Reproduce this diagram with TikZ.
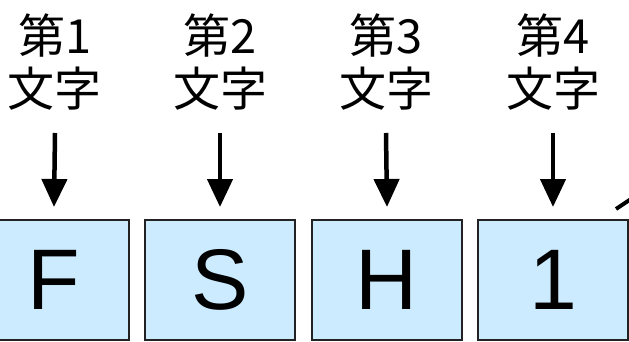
\documentclass[tikz,border=0pt]{standalone}
\usepackage{fontspec}
\setmainfont{Liberation Sans}
\newfontfamily\jpfont{Noto Sans CJK JP}
\usetikzlibrary{arrows.meta}
\definecolor{boxfill}{HTML}{CCEBFF}
\definecolor{boxline}{HTML}{222222}
\tikzset{
  charbox/.style={draw=boxline, line width=2pt, fill=boxfill, minimum width=150pt, minimum height=120pt, inner sep=0pt, font=\fontsize{86}{86}\selectfont},
  lbl/.style={align=center, inner sep=0pt, font=\jpfont\fontsize{47}{53}\selectfont},
  pointer/.style={line width=4.5pt, -{Triangle[width=25pt,length=28pt]}}
}
\begin{document}
\begin{tikzpicture}[x=1pt,y=-1pt]
\useasboundingbox (0,0) rectangle (629,342);
\begin{scope}
\clip (0,0) rectangle (629,342);
\node[charbox] (b1) at (54,279.5) {F};
\node[charbox] (b2) at (220,279.5) {S};
\node[charbox] (b3) at (387,279.5) {H};
\node[charbox] (b4) at (553,279.5) {1};
\node[lbl] (l1) at (55,62) {第1\\文字};
\node[lbl] (l2) at (220,62) {第2\\文字};
\node[lbl] (l3) at (386,62) {第3\\文字};
\node[lbl] (l4) at (553,62) {第4\\文字};
\coordinate (a1) at (55,133);
\coordinate (a2) at (220,133);
\coordinate (a3) at (386,133);
\coordinate (a4) at (553,133);
\draw[pointer] (a1) -- (b1.north |- 0,207);
\draw[pointer] (a2) -- (b2.north |- 0,207);
\draw[pointer] (a3) -- (b3.north |- 0,207);
\draw[pointer] (a4) -- (b4.north |- 0,207);
\coordinate (e1) at (616,209);
\coordinate (e2) at (640,193);
\draw[line width=4pt] (e1) -- (e2);
\end{scope}
\end{tikzpicture}
\end{document}
